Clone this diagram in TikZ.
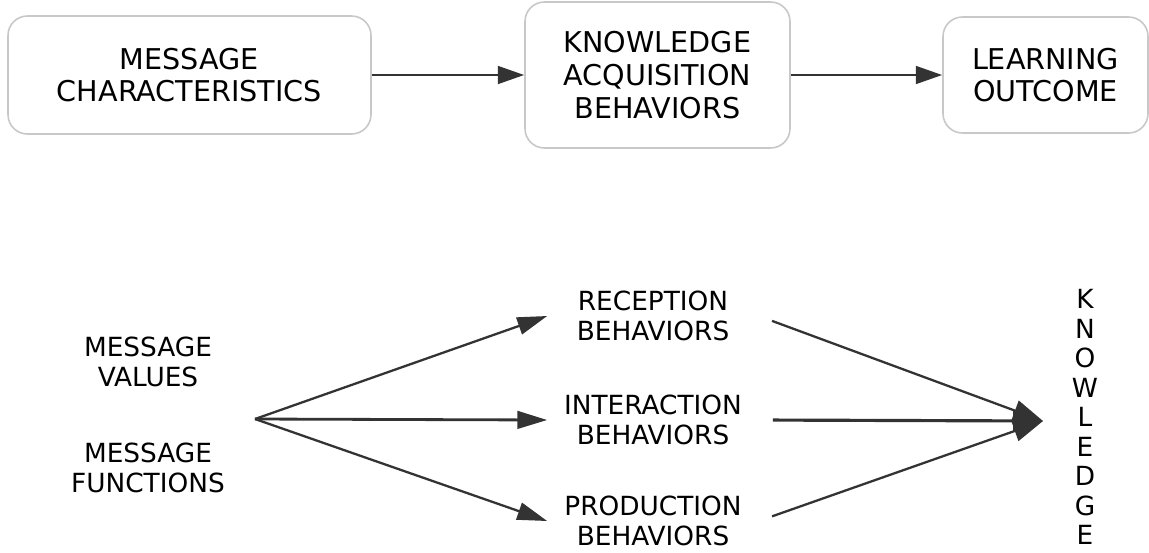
\documentclass[tikz,border=0pt]{standalone}
\usepackage{fontspec}
\setmainfont{DejaVu Sans}
\usepackage{xcolor}
\usepackage{tikz}
\usetikzlibrary{arrows.meta,positioning}
\definecolor{ink}{RGB}{0,0,0}
\definecolor{shaft}{RGB}{51,51,51}
\definecolor{rim}{RGB}{200,200,200}
\tikzset{
  stage/.style={draw=rim,line width=0.9pt,fill=white,rounded corners=11pt,
    align=center,text=ink,font=\fontsize{16.3}{18.7}\selectfont,inner sep=0pt},
  flow/.style={shaft,line width=1.7pt,-{Triangle[length=15pt,width=10pt]}},
  fan/.style={shaft,line width=1.3pt,-{Triangle[length=17pt,width=10pt]}},
  merge/.style={shaft,line width=1.3pt,shorten <=8pt,-{Triangle[length=17pt,width=12pt]}},
  label/.style={align=center,text=ink,font=\fontsize{15}{17}\selectfont,inner sep=0pt},
  behav/.style={label,minimum width=4.22cm,minimum height=1cm}
}
\begin{document}
\begin{tikzpicture}[x=0.02cm,y=-0.02cm]
  \useasboundingbox[fill=white] (0,0) rectangle (1149,552);
  % top row
  \node[stage,minimum width=7.26cm,minimum height=2.36cm] (msgchar) at (189.5,75)
    {MESSAGE\\CHARACTERISTICS};
  \node[stage,minimum width=5.3cm,minimum height=2.92cm] (kab) at (657.5,75)
    {KNOWLEDGE\\ACQUISITION\\BEHAVIORS};
  \node[stage,minimum width=4.1cm,minimum height=2.32cm] (outcome) at (1045.5,75)
    {LEARNING\\OUTCOME};
  \draw[flow] (msgchar)--(kab);
  \draw[flow] (kab)--(outcome);
  % bottom row
  \node[label] (values) at (148,362) {MESSAGE\\VALUES};
  \node[label] (functions) at (148,468) {MESSAGE\\FUNCTIONS};
  \coordinate (src) at (255,419);
  \node[behav] (rec) at (653,316) {RECEPTION\\BEHAVIORS};
  \node[behav] (inter) at (653,420) {INTERACTION\\BEHAVIORS};
  \node[behav] (prod) at (653,521) {PRODUCTION\\BEHAVIORS};
  \node[label,font=\fontsize{15}{16.8}\selectfont] (know) at (1085,417)
    {K\\N\\O\\W\\L\\E\\D\\G\\E};
  \coordinate (sink) at (1043,421);
  \draw[fan] (src)--(rec.west);
  \draw[fan,line width=1.6pt] (src)--(inter.west);
  \draw[fan] (src)--(prod.west);
  \draw[merge] (rec.east)--(sink);
  \draw[merge,line width=1.8pt] (inter.east)--(sink);
  \draw[merge] (prod.east)--(sink);
\end{tikzpicture}
\end{document}
